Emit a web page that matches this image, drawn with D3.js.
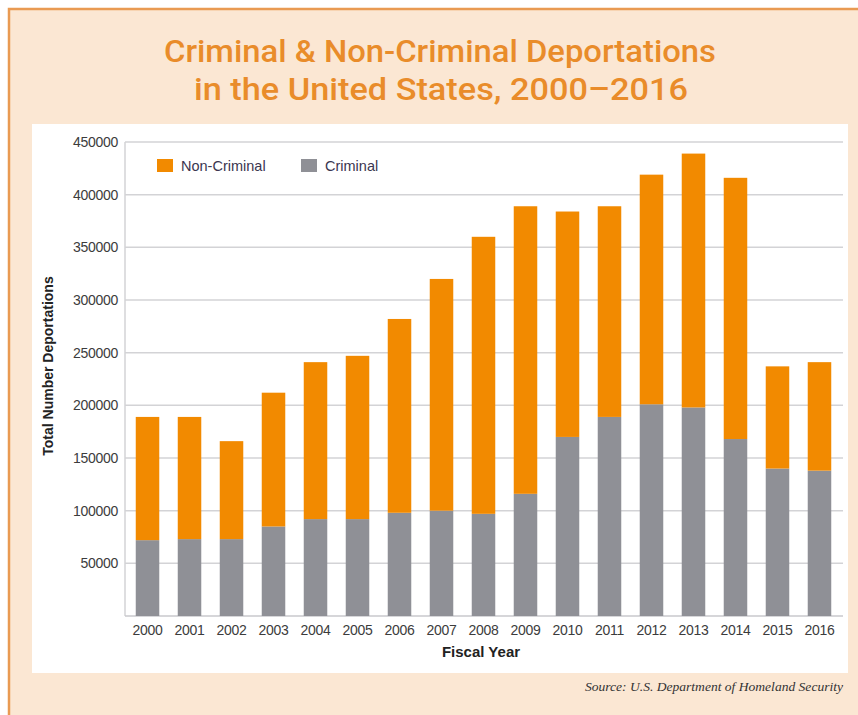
<!DOCTYPE html>
<meta charset="utf-8">
<style>
  body { margin: 0; background: #fff; }
</style>
<div id="chart"></div>
<script src="https://cdn.jsdelivr.net/npm/d3@7"></script>
<script>

var years = ["2000","2001","2002","2003","2004","2005","2006","2007","2008",
             "2009","2010","2011","2012","2013","2014","2015","2016"];
var criminal = [72000, 73000, 73000, 85000, 92000, 92000, 98000, 100000, 97000,
                116000, 170000, 189000, 201000, 198000, 168000, 140000, 138000];
var nonCriminal = [117000, 116000, 93000, 127000, 149000, 155000, 184000, 220000, 263000,
                   273000, 214000, 200000, 218000, 241000, 248000, 97000, 103000];
var yTicks = [50000, 100000, 150000, 200000, 250000, 300000, 350000, 400000, 450000];
var seriesNames = ["Non-Criminal", "Criminal"];

var orange = "#f28a00", grey = "#8f9096";

var W = 858, H = 715;
var svg = d3.select("#chart").append("svg")
    .attr("width", W)
    .attr("height", H);

// page background + frame
svg.append("rect").attr("x", 8).attr("y", 8).attr("width", W - 8).attr("height", H - 8)
  .attr("fill", "#fbe7d3");
svg.append("path").attr("d", "M9,715 V9 H858")
  .attr("fill", "none").attr("stroke", "#e99a52").attr("stroke-width", 2.5);

// title
var title = svg.append("g")
  .attr("font-family", "'Liberation Sans Narrow', 'Roboto', sans-serif")
  .attr("font-weight", 500)
  .attr("fill", "#e98c2a")
  .attr("font-size", 31)
  .attr("text-anchor", "middle");
title.append("text").attr("x", 440).attr("y", 62)
  .attr("textLength", 552).attr("lengthAdjust", "spacingAndGlyphs")
  .text("Criminal & Non-Criminal Deportations");
title.append("text").attr("x", 441).attr("y", 100)
  .attr("textLength", 494).attr("lengthAdjust", "spacingAndGlyphs")
  .text("in the United States, 2000\u20132016");

// white panel
svg.append("rect").attr("x", 32).attr("y", 124).attr("width", 816).attr("height", 549)
  .attr("fill", "#fff");

var x = d3.scaleBand()
  .domain(years)
  .range([125, 842])
  .paddingInner(0.44)
  .paddingOuter(0.256);

var y = d3.scaleLinear()
  .domain([0, 450000])
  .range([616, 142]);

// grid
svg.append("g")
  .selectAll("line")
  .data(yTicks)
  .enter().append("line")
    .attr("x1", 125).attr("x2", 843)
    .attr("y1", function(d) { return y(d); })
    .attr("y2", function(d) { return y(d); })
    .attr("stroke", "#d3d3d6").attr("stroke-width", 1.5);

svg.append("line").attr("x1", 125).attr("x2", 125).attr("y1", y(450000)).attr("y2", y(0))
  .attr("stroke", "#d3d3d6").attr("stroke-width", 1.5);
svg.append("line").attr("x1", 125).attr("x2", 843).attr("y1", y(0)).attr("y2", y(0))
  .attr("stroke", "#c9c9cc").attr("stroke-width", 1.5);

// y axis labels
var yAxis = d3.axisLeft(y).tickValues(yTicks).tickFormat(d3.format("d"))
  .tickSize(0).tickPadding(7);
var gy = svg.append("g").attr("transform", "translate(125,0)").call(yAxis);
gy.select(".domain").remove();
gy.selectAll("text")
  .attr("font-family", "'Liberation Sans', Arial, sans-serif")
  .attr("font-size", 14)
  .attr("letter-spacing", -0.3)
  .attr("fill", "#3c3c3c");

// bars
var rows = years.map(function(yr, i) {
  return { year: yr, criminal: criminal[i], nonCriminal: nonCriminal[i] };
});
var stack = d3.stack().keys(["criminal", "nonCriminal"])(rows);
var colors = { criminal: grey, nonCriminal: orange };

svg.append("g")
  .selectAll("g")
  .data(stack)
  .enter().append("g")
    .attr("fill", function(s) { return colors[s.key]; })
  .selectAll("rect")
  .data(function(s) { return s; })
  .enter().append("rect")
    .attr("x", function(d) { return x(d.data.year); })
    .attr("width", x.bandwidth())
    .attr("y", function(d) { return y(d[1]); })
    .attr("height", function(d) { return y(d[0]) - y(d[1]); });

// x axis labels
var xAxis = d3.axisBottom(x).tickSize(0).tickPadding(9);
var gx = svg.append("g").attr("transform", "translate(0," + y(0) + ")").call(xAxis);
gx.select(".domain").remove();
gx.selectAll("text")
  .attr("font-family", "'Liberation Sans', Arial, sans-serif")
  .attr("font-size", 14)
  .attr("letter-spacing", -0.3)
  .attr("fill", "#3c3c3c");

// axis titles
svg.append("text")
  .attr("x", 481).attr("y", 657)
  .attr("text-anchor", "middle")
  .attr("font-family", "'Liberation Sans', Arial, sans-serif")
  .attr("font-weight", "bold")
  .attr("font-size", 15)
  .attr("fill", "#222")
  .text("Fiscal Year");

svg.append("text")
  .attr("transform", "translate(53,366) rotate(-90)")
  .attr("text-anchor", "middle")
  .attr("font-family", "'Liberation Sans', Arial, sans-serif")
  .attr("font-weight", "bold")
  .attr("font-size", 14)
  .attr("fill", "#222")
  .text("Total Number Deportations");

// legend
var legend = svg.append("g")
  .attr("font-family", "'Liberation Sans', Arial, sans-serif")
  .attr("font-size", 14.5)
  .attr("fill", "#3b3650");
var legendX = [157, 301];
seriesNames.forEach(function(name, i) {
  legend.append("rect")
    .attr("x", legendX[i]).attr("y", 159).attr("width", 16).attr("height", 13)
    .attr("fill", i === 0 ? orange : grey);
  legend.append("text")
    .attr("x", legendX[i] + 24).attr("y", 171)
    .text(name);
});

// source
svg.append("text")
  .attr("x", 843).attr("y", 691)
  .attr("text-anchor", "end")
  .attr("font-family", "'Liberation Serif', serif")
  .attr("font-style", "italic")
  .attr("font-size", 12)
  .attr("textLength", 258).attr("lengthAdjust", "spacingAndGlyphs")
  .attr("fill", "#333")
  .text("Source: U.S. Department of Homeland Security");

</script>
